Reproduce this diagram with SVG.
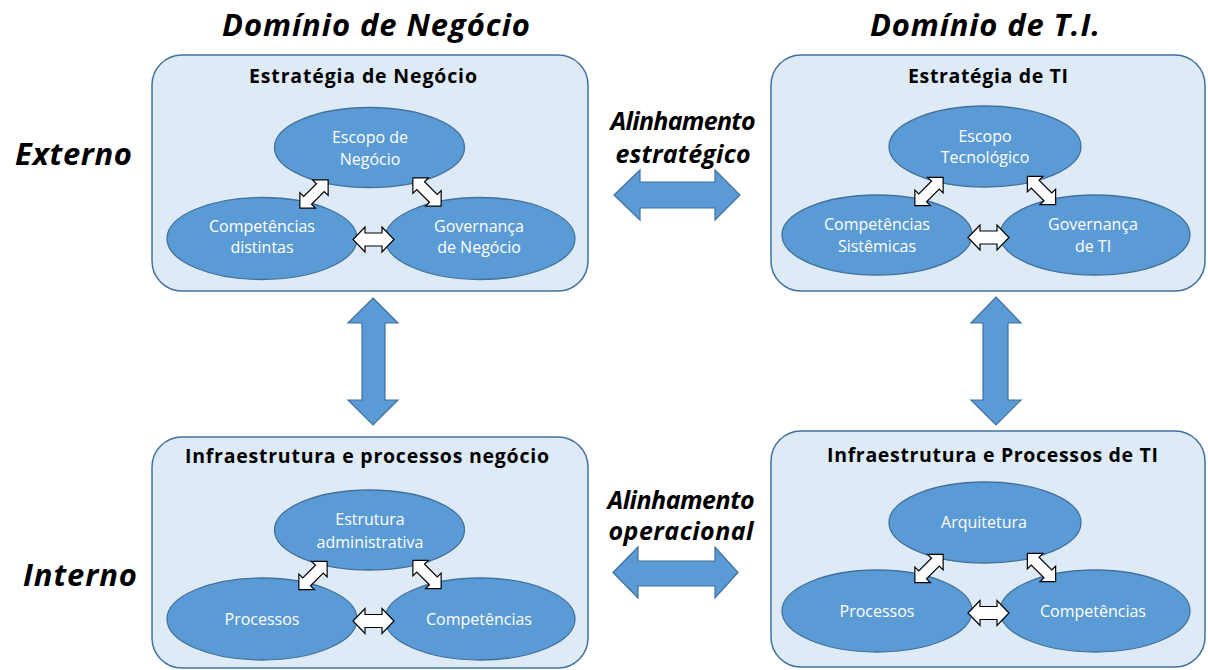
<svg xmlns="http://www.w3.org/2000/svg" xmlns:xlink="http://www.w3.org/1999/xlink" width="1208" height="670" viewBox="0 0 1208 670">
<style>
.box{fill:#DEEBF7;stroke:#41719C;stroke-width:1.5}
.ell{fill:#5B9BD5;stroke:#41719C;stroke-width:1.3}
.big{fill:#5B9BD5;stroke:#41719C;stroke-width:1.2}
.sm{fill:#FFFFFF;stroke:#000000;stroke-width:1.2;stroke-linejoin:miter}
.head{font-family:"Open Sans","Liberation Sans",sans-serif;font-weight:bold;font-style:italic;fill:#000}
.title{font-family:"Open Sans","Liberation Sans",sans-serif;font-weight:bold;font-size:19.5px;fill:#000;text-anchor:middle}
.lbl{font-family:"Open Sans","Liberation Sans",sans-serif;font-size:16px;fill:#FFFFFF;text-anchor:middle}
</style>
<defs>
<polygon id="harr" points="-20.5,0 -8.5,-12.5 -8.5,-6.5 8.5,-6.5 8.5,-12.5 20.5,0 8.5,12.5 8.5,6.5 -8.5,6.5 -8.5,12.5"/>
<polygon id="darr" points="-20,0 -9,-11 -9,-5.5 9,-5.5 9,-11 20,0 9,11 9,5.5 -9,5.5 -9,11"/>
</defs>
<rect width="1208" height="670" fill="#FFFFFF"/>

<g id="headings">
<text class="head" x="376" y="36" font-size="31" text-anchor="middle" textLength="308">Domínio de Negócio</text>
<text class="head" x="985" y="36" font-size="31" text-anchor="middle" textLength="230">Domínio de T.I.</text>
<text class="head" x="15" y="165" font-size="31" textLength="117">Externo</text>
<text class="head" x="23" y="586" font-size="31" textLength="114">Interno</text>
<text class="head" x="683" y="130" font-size="25" text-anchor="middle" textLength="145">Alinhamento</text>
<text class="head" x="683" y="163" font-size="25" text-anchor="middle" textLength="135">estratégico</text>
<text class="head" x="681" y="509" font-size="25" text-anchor="middle" textLength="147">Alinhamento</text>
<text class="head" x="681" y="540" font-size="25" text-anchor="middle" textLength="145">operacional</text>
</g>

<g id="estrategia-negocio">
<rect class="box" x="152" y="55" width="436" height="236" rx="30"/>
<text class="title" x="363" y="83" textLength="228">Estratégia de Negócio</text>
<g id="escopo-negocio"><ellipse class="ell" cx="369.5" cy="147.5" rx="95" ry="40"/>
<text class="lbl" x="370" y="143">Escopo de</text><text class="lbl" x="370" y="165">Negócio</text></g>
<g id="competencias-distintas"><ellipse class="ell" cx="262" cy="238.5" rx="95" ry="41"/>
<text class="lbl" x="262" y="232">Competências</text><text class="lbl" x="262" y="253">distintas</text></g>
<g id="governanca-negocio"><ellipse class="ell" cx="480" cy="238.5" rx="95" ry="41"/>
<text class="lbl" x="479" y="232">Governança</text><text class="lbl" x="479" y="253">de Negócio</text></g>
</g>

<g id="estrategia-ti">
<rect class="box" x="771" y="55" width="434" height="236" rx="30"/>
<text class="title" x="988" y="83" textLength="160">Estratégia de TI</text>
<g id="escopo-tecnologico"><ellipse class="ell" cx="985" cy="146.5" rx="96" ry="40.5"/>
<text class="lbl" x="985" y="142">Escopo</text><text class="lbl" x="985" y="163">Tecnológico</text></g>
<g id="competencias-sistemicas"><ellipse class="ell" cx="877" cy="235" rx="95" ry="40"/>
<text class="lbl" x="877" y="230">Competências</text><text class="lbl" x="877" y="252">Sistêmicas</text></g>
<g id="governanca-ti"><ellipse class="ell" cx="1095" cy="235" rx="95" ry="40"/>
<text class="lbl" x="1093" y="230">Governança</text><text class="lbl" x="1093" y="252">de TI</text></g>
</g>

<g id="infra-negocio">
<rect class="box" x="152" y="437" width="436" height="231" rx="30"/>
<text class="title" x="367" y="463" textLength="364">Infraestrutura e processos negócio</text>
<g id="estrutura-administrativa"><ellipse class="ell" cx="369.5" cy="530" rx="95" ry="40"/>
<text class="lbl" x="370" y="525">Estrutura</text><text class="lbl" x="370" y="548">administrativa</text></g>
<g id="processos-negocio"><ellipse class="ell" cx="262" cy="619" rx="95" ry="41"/>
<text class="lbl" x="262" y="625">Processos</text></g>
<g id="competencias-negocio"><ellipse class="ell" cx="480" cy="619" rx="95" ry="41"/>
<text class="lbl" x="479" y="625">Competências</text></g>
</g>

<g id="infra-ti">
<rect class="box" x="771" y="431" width="434" height="236" rx="30"/>
<text class="title" x="992.5" y="462" textLength="331">Infraestrutura e Processos de TI</text>
<g id="arquitetura"><ellipse class="ell" cx="985" cy="522.5" rx="96" ry="40.5"/>
<text class="lbl" x="984" y="528">Arquitetura</text></g>
<g id="processos-ti"><ellipse class="ell" cx="877" cy="611" rx="95" ry="41"/>
<text class="lbl" x="877" y="617">Processos</text></g>
<g id="competencias-ti"><ellipse class="ell" cx="1095" cy="611" rx="95" ry="41"/>
<text class="lbl" x="1093" y="617">Competências</text></g>
</g>

<g id="connectors">
<polygon class="big" points="614,195 640,170 640,182 715,182 715,170 740,195 715,220 715,208 640,208 640,220"/>
<polygon class="big" points="613,572.5 638,547 638,561 715,561 715,547 738,572.5 715,598 715,586 638,586 638,598"/>
<polygon class="big" points="373,298 398,323 385,323 385,400 398,400 373,425 348,400 362,400 362,323 348,323"/>
<polygon class="big" points="996,297 1021,323 1008,323 1008,400 1021,400 996,425 971,400 983,400 983,323 971,323"/>

<use class="sm" xlink:href="#darr" href="#darr" transform="translate(314,194) rotate(-45)"/>
<use class="sm" xlink:href="#darr" href="#darr" transform="translate(427,192) rotate(45)"/>
<use class="sm" xlink:href="#harr" href="#harr" transform="translate(373.5,239.5)"/>

<use class="sm" xlink:href="#darr" href="#darr" transform="translate(929,191.5) rotate(-45)"/>
<use class="sm" xlink:href="#darr" href="#darr" transform="translate(1041.5,190.5) rotate(45)"/>
<use class="sm" xlink:href="#harr" href="#harr" transform="translate(988.5,237.5)"/>

<use class="sm" xlink:href="#darr" href="#darr" transform="translate(313,575.5) rotate(-45)"/>
<use class="sm" xlink:href="#darr" href="#darr" transform="translate(427,574.5) rotate(45)"/>
<use class="sm" xlink:href="#harr" href="#harr" transform="translate(373.5,621)"/>

<use class="sm" xlink:href="#darr" href="#darr" transform="translate(929,568.5) rotate(-45)"/>
<use class="sm" xlink:href="#darr" href="#darr" transform="translate(1041.5,567.5) rotate(45)"/>
<use class="sm" xlink:href="#harr" href="#harr" transform="translate(988.5,613)"/>
</g>
</svg>
